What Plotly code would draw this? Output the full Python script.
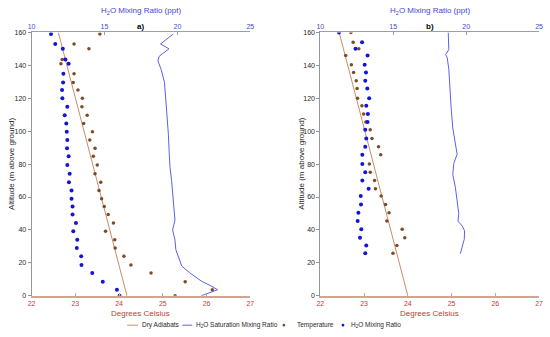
import plotly.graph_objects as go

W, H = 550, 337

# ---------------- data ----------------
# Panel a
alt_a = [0, 3.7, 8.6, 13.8, 18.7, 24, 29.1, 34.1, 39.2, 44.3, 49.4, 54.3, 59, 63.9, 69, 74.1, 79.5,
         84.8, 89.7, 94.7, 99.6, 104.6, 109.7, 114.9, 120, 125, 129.5, 134.9, 141, 143.6, 150, 153, 159]
temp_a = [25.28, 26.13, 25.51, 24.73, 24.27, 24.11, 23.91, 23.90, 23.69, 23.87, 23.75, 23.66, 23.60,
          23.54, 23.58, 23.45, 23.50, 23.41, 23.45, 23.33, 23.39, 23.19, 23.27, 23.15, 23.16, 23.06,
          22.95, 22.97, 22.67, 22.70, 23.31, 22.97, 23.56]
mix_a = [16.03, 15.85, 14.88, 14.16, 13.42, 13.40, 13.10, 13.13, 12.86, 13.04, 12.81, 12.81, 12.74,
         12.74, 12.56, 12.61, 12.45, 12.54, 12.43, 12.45, 12.41, 12.38, 12.27, 12.45, 12.11, 12.09,
         12.16, 12.18, 12.54, 12.32, 12.14, 11.62, 11.33]
sat_alt_a = [159, 153, 150, 145.5, 142.6, 137.6, 129.7, 120, 108, 98, 86, 78, 70, 58, 46, 40, 34, 28,
             23, 18, 14, 9, 6, 3.7, 0]
sat_a = [19.71, 18.84, 19.42, 18.75, 18.66, 18.88, 19.11, 19.20, 19.29, 19.38, 19.44, 19.49, 19.60,
         19.71, 19.83, 19.67, 19.83, 19.89, 20.10, 20.30, 20.84, 21.63, 22.30, 22.75, 21.63]
adiab_alt_a = [0, 160]
adiab_a = [24.18, 22.61]

# Panel b
alt_b = [25.9, 30.6, 35.3, 40.4, 45.5, 50.5, 55.5, 60.6, 65, 70, 75, 80, 85.7, 90.5, 95.6, 100.8,
         105.5, 110.5, 115.4, 120, 126, 130.7, 135.6, 140.4, 146, 150, 154, 160]
temp_b = [23.66, 23.75, 23.93, 23.87, 23.52, 23.57, 23.49, 23.39, 23.26, 23.24, 23.14, 23.12, 23.38,
          23.33, 23.18, 23.14, 23.04, 22.99, 22.95, 22.85, 22.84, 22.82, 22.76, 22.71, 22.58, 22.88,
          22.75, 22.70]
mix_b = [13.08, 13.15, 12.72, 12.81, 12.56, 12.61, 12.79, 12.77, 13.31, 12.88, 13.08, 12.88, 12.88,
         13.08, 13.15, 13.08, 13.24, 13.26, 13.15, 13.35, 13.22, 13.08, 13.13, 13.04, 13.24, 12.41,
         12.86, 11.28]
sat_alt_b = [160, 149.5, 146.6, 144.6, 137.6, 125.7, 114, 102, 94, 86, 80.4, 73.7, 65.8, 58, 50, 45.3,
             42.3, 39.4, 34.4, 25.6]
sat_b = [18.77, 18.81, 18.59, 18.70, 18.81, 18.88, 18.97, 19.08, 19.22, 19.38, 19.15, 19.08, 19.26,
         19.38, 19.49, 19.44, 19.74, 19.89, 19.87, 19.60]
adiab_alt_b = [0, 160]
adiab_b = [24.00, 22.43]

temp_ticks = [22, 23, 24, 25, 26, 27]
ppt_ticks = [10, 15, 20, 25]
alt_ticks = [0, 20, 40, 60, 80, 100, 120, 140, 160]
legend_labels = ["Dry Adiabats", "H<sub>2</sub>O Saturation Mixing Ratio", "Temperature",
                 "H<sub>2</sub>O Mixing Ratio"]
panel_titles = ["a)", "b)"]

# ---------------- styles ----------------
FONT = "Liberation Sans, Arial, sans-serif"
C_ADIAB = "rgb(200,140,105)"
C_SAT = "rgb(95,95,230)"
C_TEMP = "rgb(125,75,35)"
C_MIX = "rgb(20,20,215)"
C_RED = "rgb(195,60,50)"
C_BLUE = "rgb(70,70,215)"
C_BOTLINE = "rgb(205,165,145)"
C_TOPLINE = "rgb(150,150,230)"


def px(x):
    return x / W


def py(y):
    return 1 - y / H


ydom = [py(298), py(29)]
xdom_a = [px(28), px(250)]
xdom_b = [px(321), px(543)]

fig = go.Figure()

panels = [
    (adiab_a, adiab_alt_a, sat_a, sat_alt_a, temp_a, alt_a, mix_a, alt_a, "x", "x2", "y"),
    (adiab_b, adiab_alt_b, sat_b, sat_alt_b, temp_b, alt_b, mix_b, alt_b, "x3", "x4", "y2"),
]
for (ad, adz, st, stz, tp, tz, mx, mz, xb, xt, ya) in panels:
    fig.add_trace(go.Scatter(x=ad, y=adz, mode="lines", line=dict(color=C_ADIAB, width=1),
                             xaxis=xb, yaxis=ya, showlegend=False))
    fig.add_trace(go.Scatter(x=st, y=stz, mode="lines", line=dict(color=C_SAT, width=1),
                             xaxis=xt, yaxis=ya, showlegend=False))
    fig.add_trace(go.Scatter(x=tp, y=tz, mode="markers", marker=dict(color=C_TEMP, size=3.5),
                             xaxis=xb, yaxis=ya, showlegend=False))
    fig.add_trace(go.Scatter(x=mx, y=mz, mode="markers", marker=dict(color=C_MIX, size=4),
                             xaxis=xt, yaxis=ya, showlegend=False))


def bottom_axis(dom, anchor):
    return dict(domain=dom, anchor=anchor, range=[22, 27], tickvals=temp_ticks,
                showgrid=False, zeroline=False, showline=True, linecolor=C_BOTLINE, linewidth=1.5,
                ticks="inside", ticklen=3, tickcolor=C_BOTLINE,
                tickfont=dict(family=FONT, size=7, color=C_RED), ticklabelstandoff=0)


def top_axis(dom, overlay, anchor):
    return dict(domain=dom, overlaying=overlay, anchor=anchor, side="top", range=[10, 25],
                tickvals=ppt_ticks,
                showgrid=False, zeroline=False, showline=True, linecolor=C_TOPLINE, linewidth=1,
                ticks="inside", ticklen=3, tickcolor=C_TOPLINE,
                tickfont=dict(family=FONT, size=7, color=C_BLUE), ticklabelstandoff=0)


def left_axis(anchor):
    return dict(domain=ydom, anchor=anchor, range=[0, 160], tickvals=alt_ticks,
                showgrid=False, zeroline=False, showline=True, linecolor="rgb(150,150,150)",
                linewidth=1, ticks="outside", ticklen=3, tickcolor="rgb(150,150,150)",
                tickfont=dict(family=FONT, size=7, color="rgb(40,40,40)"))


fig.update_layout(
    width=W, height=H, margin=dict(l=0, r=0, t=0, b=0),
    paper_bgcolor="white", plot_bgcolor="white", showlegend=False,
    xaxis=bottom_axis(xdom_a, "y"),
    xaxis2=top_axis(xdom_a, "x", "y"),
    yaxis=left_axis("x"),
    xaxis3=bottom_axis(xdom_b, "y2"),
    xaxis4=top_axis(xdom_b, "x3", "y2"),
    yaxis2=left_axis("x3"),
)

annotations = []
for dom, title, ytitle_x in [(xdom_a, panel_titles[0], 7), (xdom_b, panel_titles[1], 301)]:
    cx = (dom[0] + dom[1]) / 2
    annotations.append(dict(x=cx, y=py(23), xref="paper", yref="paper", text="<b>" + title + "</b>",
                            showarrow=False, font=dict(family=FONT, size=8, color="black"),
                            xanchor="center", yanchor="middle"))
    annotations.append(dict(x=cx, y=py(7), xref="paper", yref="paper",
                            text="H<sub>2</sub>O Mixing Ratio (ppt)", showarrow=False,
                            font=dict(family=FONT, size=8, color=C_BLUE),
                            xanchor="center", yanchor="middle"))
    annotations.append(dict(x=cx, y=py(316), xref="paper", yref="paper",
                            text="Degrees Celsius", showarrow=False,
                            font=dict(family=FONT, size=8, color=C_RED),
                            xanchor="center", yanchor="middle"))
    annotations.append(dict(x=px(ytitle_x), y=(ydom[0] + ydom[1]) / 2, xref="paper", yref="paper",
                            text="Altitude (m above ground)", showarrow=False, textangle=-90,
                            font=dict(family=FONT, size=8, color="rgb(40,40,40)"),
                            xanchor="center", yanchor="middle"))

# manual legend
ly = py(328)
shapes = []
shapes.append(dict(type="line", xref="paper", yref="paper", x0=px(125), x1=px(136), y0=ly, y1=ly,
                   line=dict(color=C_ADIAB, width=1)))
shapes.append(dict(type="line", xref="paper", yref="paper", x0=px(181), x1=px(191), y0=ly, y1=ly,
                   line=dict(color=C_SAT, width=1)))
for cxp, col in [(284, C_TEMP), (344, C_MIX)]:
    shapes.append(dict(type="circle", xref="paper", yref="paper", x0=px(cxp - 1.4), x1=px(cxp + 1.4),
                       y0=py(328 + 1.4), y1=py(328 - 1.4), fillcolor=col, line=dict(width=0)))
for xpos, lab in zip([137.5, 193, 295, 350], legend_labels):
    annotations.append(dict(x=px(xpos), y=ly, xref="paper", yref="paper", text=lab, showarrow=False,
                            font=dict(family=FONT, size=6.5, color="rgb(40,40,40)"),
                            xanchor="left", yanchor="middle"))

fig.update_layout(annotations=annotations, shapes=shapes)
fig.write_html("out.html", config={"displayModeBar": False},
               post_script="document.body.style.margin='0px';document.body.style.overflow='hidden';")
